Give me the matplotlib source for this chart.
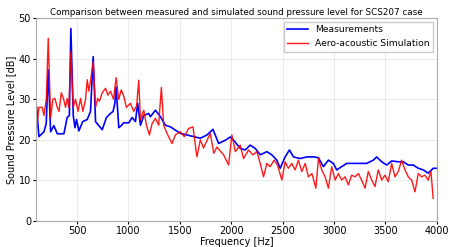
import matplotlib
matplotlib.use("Agg")
import matplotlib.pyplot as plt

# measured spectrum (blue)
meas_freq = [107, 129, 178, 200, 220, 243, 275, 308, 372, 404, 425, 440, 463, 480, 495, 518,
             555, 599, 631, 657, 680, 712, 745, 786, 825, 850, 868, 880, 906, 930, 954, 1003,
             1036, 1068, 1090, 1117, 1149, 1197, 1214, 1262, 1311, 1359, 1408, 1456, 1505,
             1570, 1634, 1699, 1764, 1822, 1877, 1942, 1990, 2023, 2087, 2136, 2184, 2233,
             2282, 2346, 2395, 2443, 2476, 2524, 2566, 2605, 2670, 2735, 2799, 2848, 2896,
             2945, 2993, 3026, 3074, 3123, 3188, 3252, 3317, 3382, 3414, 3463, 3512, 3560,
             3625, 3673, 3722, 3770, 3819, 3867, 3916, 3964, 4000]
meas_spl = [28.1, 20.8, 22.0, 24.0, 37.2, 22.0, 23.5, 21.5, 21.5, 25.5, 26.0, 47.4, 26.0, 23.0,
            25.0, 22.2, 24.5, 25.0, 27.0, 40.5, 24.5, 23.5, 22.5, 25.5, 26.5, 27.0, 29.0, 33.0,
            23.0, 23.5, 24.2, 24.2, 25.5, 24.5, 29.0, 23.6, 26.0, 26.5, 25.7, 27.3, 25.7, 23.6,
            23.2, 22.4, 21.6, 21.2, 20.8, 20.4, 21.2, 22.6, 19.1, 19.9, 20.7, 19.9, 17.9, 17.5,
            18.7, 17.9, 16.3, 17.1, 16.3, 15.0, 13.0, 15.8, 17.5, 15.8, 15.4, 15.8, 15.8, 15.6,
            13.4, 15.0, 14.2, 12.6, 13.4, 14.2, 14.2, 14.2, 14.2, 15.0, 15.8, 14.6, 13.8, 14.8,
            14.6, 14.6, 13.8, 13.8, 13.0, 12.6, 11.8, 13.0, 13.0]

# simulated spectrum (red)
sim_freq = [107, 129, 162, 178, 201, 220, 243, 265, 285, 308, 325, 347, 370, 388, 405, 420,
            440, 463, 485, 510, 534, 557, 583, 599, 615, 631, 657, 680, 700, 718, 745, 777,
            800, 825, 855, 880, 906, 930, 954, 980, 1019, 1052, 1080, 1100, 1117, 1149, 1175,
            1204, 1230, 1262, 1294, 1320, 1343, 1375, 1424, 1456, 1505, 1544, 1586, 1628, 1666,
            1699, 1730, 1796, 1830, 1860, 1926, 1974, 2006, 2040, 2087, 2120, 2168, 2210, 2249,
            2282, 2314, 2346, 2378, 2417, 2450, 2492, 2524, 2556, 2589, 2621, 2653, 2686, 2719,
            2750, 2785, 2823, 2848, 2880, 2913, 2945, 2977, 3010, 3042, 3074, 3107, 3139, 3171,
            3204, 3236, 3268, 3301, 3333, 3366, 3398, 3430, 3463, 3495, 3527, 3560, 3592, 3625,
            3657, 3690, 3722, 3754, 3787, 3819, 3851, 3884, 3916, 3942, 3964]
sim_spl = [22.8, 28.0, 28.0, 26.0, 30.0, 45.0, 25.5, 30.0, 30.2, 28.0, 27.0, 31.6, 30.0, 28.0,
           30.2, 28.0, 41.7, 28.0, 30.0, 27.0, 30.2, 27.0, 30.0, 34.8, 32.0, 34.5, 39.2, 28.0,
           30.2, 29.5, 31.6, 32.7, 31.0, 32.0, 30.0, 35.3, 30.0, 32.3, 30.8, 28.0, 29.0, 27.0,
           28.4, 34.7, 24.9, 27.3, 23.6, 21.2, 24.0, 25.3, 23.6, 32.9, 23.6, 21.6, 19.1, 21.2,
           22.0, 20.8, 22.8, 23.2, 15.8, 20.0, 18.0, 21.6, 16.7, 18.2, 16.3, 13.8, 21.2, 17.1,
           18.7, 15.4, 17.5, 16.3, 17.1, 14.2, 10.9, 14.2, 13.4, 15.0, 13.8, 10.1, 14.6, 13.0,
           14.2, 12.6, 15.0, 12.2, 14.2, 10.9, 11.7, 8.1, 15.4, 12.6, 10.9, 8.1, 13.4, 10.1,
           11.7, 10.1, 10.9, 8.9, 11.3, 10.9, 11.7, 10.1, 8.1, 12.2, 10.1, 8.5, 12.6, 10.1,
           11.3, 9.7, 14.2, 10.9, 12.2, 15.0, 12.6, 10.9, 10.1, 7.2, 11.7, 10.9, 11.3, 10.1,
           12.2, 5.6]

fig, ax = plt.subplots(figsize=(4.49, 2.47), dpi=100)
fig.subplots_adjust(left=0.080, right=0.973, top=0.927, bottom=0.105)

ax.plot(meas_freq, meas_spl, color="blue", lw=1.2, label="Measurements")
ax.plot(sim_freq, sim_spl, color="red", lw=1.0, alpha=0.9, label="Aero-acoustic Simulation")

ax.set_xlim(100, 4000)
ax.set_ylim(0, 50)
ax.set_xticks([500, 1000, 1500, 2000, 2500, 3000, 3500, 4000])
ax.set_yticks([0, 10, 20, 30, 40, 50])
ax.tick_params(labelsize=7, length=2, pad=1.5)
ax.grid(True, color="#e8e8e8", lw=0.6)
ax.set_axisbelow(True)
for s in ax.spines.values():
    s.set_color("#aaaaaa")

ax.set_xlabel("Frequency [Hz]", fontsize=7, labelpad=1)
ax.set_ylabel("Sound Pressure Level [dB]", fontsize=7, labelpad=2)
ax.set_title("Comparison between measured and simulated sound pressure level for SCS207 case",
             fontsize=6.3, pad=2)
ax.legend(loc="upper right", fontsize=6.6, framealpha=1, edgecolor="#cccccc",
          fancybox=False, handlelength=2.2, borderaxespad=0.4)

fig.savefig("out.png", dpi=100)
